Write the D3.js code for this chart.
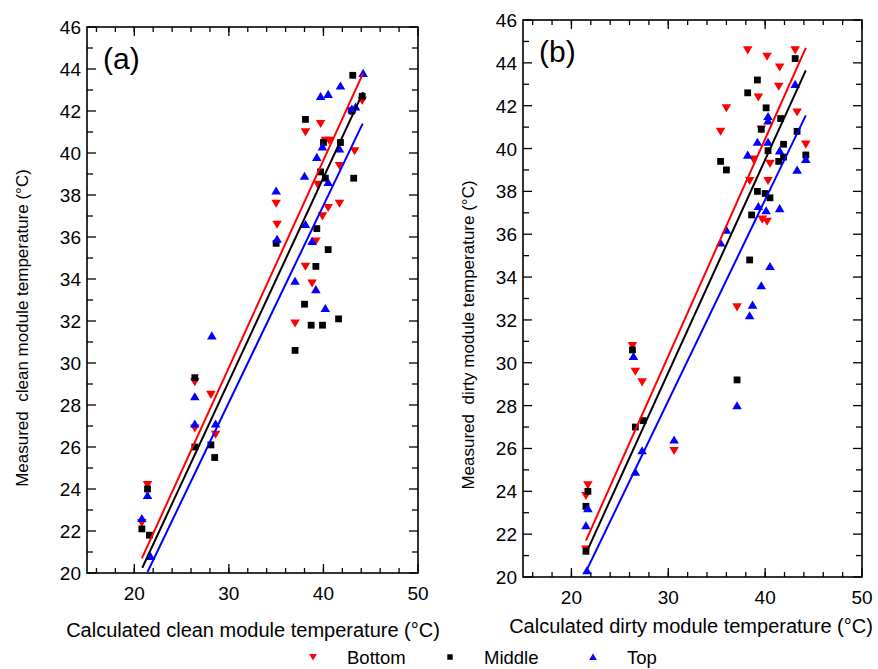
<!DOCTYPE html>
<html>
<head>
<meta charset="utf-8">
<script src="https://cdn.jsdelivr.net/npm/d3@7"></script>
<style>
  body { margin: 0; background: #fff; }
  svg { font-family: Arial, "Liberation Sans", sans-serif; }
</style>
</head>
<body>
<svg id="chart" width="878" height="669"></svg>
<script>
// series names and colours
const seriesNames = ['Bottom', 'Middle', 'Top']
const seriesColors = ['#ff0000', '#000000', '#0000ff']

// (a) clean module: [calculated, measured]
const cleanBottom = [[21.4,24.2],[20.8,22.4],[26.4,29.1],[26.4,26.9],[28.1,28.5],[28.6,26.6],[35.0,37.6],[35.1,36.6],[37.0,31.9],[38.1,41.0],[38.1,34.6],[38.8,33.8],[39.2,35.8],[39.4,38.5],[39.7,41.4],[39.9,37.0],[40.2,40.6],[40.5,37.4],[40.6,40.6],[41.7,37.6],[41.7,39.4],[42.9,42.0],[43.3,40.1],[44.1,42.5]]
const cleanMiddle = [[20.8,22.1],[21.6,21.8],[21.4,24.0],[26.4,29.3],[26.4,26.0],[28.1,26.1],[28.5,25.5],[35.0,35.7],[37.0,30.6],[38.0,32.8],[38.1,41.6],[38.7,31.8],[39.2,34.6],[39.3,36.4],[39.7,39.1],[39.9,31.8],[40.0,40.5],[40.2,38.8],[40.5,35.4],[41.6,32.1],[41.8,40.5],[43.0,42.0],[43.1,43.7],[43.2,38.8],[44.1,42.7]]
const cleanTop = [[20.8,22.6],[21.4,23.7],[21.7,20.8],[26.4,28.4],[26.4,27.1],[28.2,31.3],[28.6,27.1],[35.0,38.2],[35.1,35.9],[37.0,33.9],[38.0,38.9],[38.1,36.6],[38.8,35.8],[39.2,33.5],[39.3,39.8],[39.7,42.7],[39.9,40.3],[40.2,32.6],[40.5,38.6],[40.5,42.8],[41.7,40.2],[41.8,43.2],[43.0,42.1],[43.4,42.2],[44.2,43.8]]

// (b) dirty module
const dirtyBottom = [[21.5,21.3],[21.5,23.8],[21.7,24.3],[26.3,30.8],[26.6,29.6],[27.3,29.1],[30.6,25.9],[35.4,40.8],[36.0,41.9],[37.1,32.6],[38.2,44.6],[38.4,38.5],[38.8,39.5],[39.3,42.4],[39.6,40.9],[39.7,36.7],[40.2,44.3],[40.2,36.6],[40.3,38.5],[40.5,39.3],[41.4,42.9],[41.5,43.8],[43.1,44.6],[43.3,41.7],[44.2,40.2]]
const dirtyMiddle = [[21.5,21.2],[21.5,23.3],[21.7,24.0],[26.3,30.6],[26.6,27.0],[27.4,27.3],[35.4,39.4],[36.0,39.0],[37.1,29.2],[38.2,42.6],[38.4,34.8],[38.6,36.9],[39.2,43.2],[39.2,38.0],[39.6,40.9],[40.0,37.9],[40.1,41.9],[40.3,39.9],[40.5,37.7],[41.4,39.4],[41.6,41.4],[41.9,39.6],[41.9,40.2],[43.1,44.2],[43.3,40.8],[44.2,39.7]]
const dirtyTop = [[21.5,22.4],[21.6,20.3],[21.7,23.2],[26.4,30.3],[26.6,24.9],[27.3,25.9],[30.6,26.4],[35.4,35.6],[36.0,36.2],[37.1,28.0],[38.2,39.7],[38.4,32.2],[38.7,32.7],[39.2,40.3],[39.3,37.3],[39.6,33.6],[40.1,37.1],[40.3,41.5],[40.3,41.3],[40.3,40.3],[40.5,34.5],[41.5,39.9],[41.5,37.2],[43.1,43.0],[43.3,39.0],[44.2,39.5]]

// linear fit segments [x1, y1, x2, y2] per series
const cleanFits = [[20.8,20.7,44.2,43.8],[20.85,20.25,44.2,42.9],[21.4,20.05,44.15,41.4]]
const dirtyFits = [[21.5,21.7,44.2,44.7],[21.6,21.2,44.2,43.65],[21.5,20.25,44.2,41.55]]

// axes
const xDomain = [15, 50]
const yDomain = [20, 46]
const xTickLabels = [20, 30, 40, 50]
const yTickLabels = [20, 22, 24, 26, 28, 30, 32, 34, 36, 38, 40, 42, 44, 46]

const svg = d3.select('#chart')

// marker paths centred at 0,0
function marker(i) {
  if (i === 0) return 'M-4.8,-3.7L4.8,-3.7L0,4.4Z'
  if (i === 1) return 'M-3.4,-3.4H3.4V3.4H-3.4Z'
  return 'M-4.8,3.7L4.8,3.7L0,-4.4Z'
}

function drawPanel(p) {
  const x = d3.scaleLinear().domain(xDomain).range([p.x0, p.x1])
  const y = d3.scaleLinear().domain(yDomain).range([p.y1, p.y0])
  const g = svg.append('g')

  // ticks on all four sides, pointing inward
  const xMinor = d3.range(16, 50, 2)
  const yMinor = d3.range(21, 46, 2)
  xMinor.forEach(v => {
    g.append('line').attr('x1', x(v)).attr('x2', x(v)).attr('y1', p.y1).attr('y2', p.y1 - 5)
    g.append('line').attr('x1', x(v)).attr('x2', x(v)).attr('y1', p.y0).attr('y2', p.y0 + 5)
  })
  xTickLabels.forEach(v => {
    g.append('line').attr('x1', x(v)).attr('x2', x(v)).attr('y1', p.y1).attr('y2', p.y1 - 9)
    g.append('line').attr('x1', x(v)).attr('x2', x(v)).attr('y1', p.y0).attr('y2', p.y0 + 9)
    g.append('text').attr('x', x(v)).attr('y', p.y1 + 27)
      .attr('text-anchor', 'middle').attr('font-size', 19).text(v)
  })
  yMinor.forEach(v => {
    g.append('line').attr('x1', p.x0).attr('x2', p.x0 + 6).attr('y1', y(v)).attr('y2', y(v))
    g.append('line').attr('x1', p.x1).attr('x2', p.x1 - 6).attr('y1', y(v)).attr('y2', y(v))
  })
  yTickLabels.forEach(v => {
    g.append('line').attr('x1', p.x0).attr('x2', p.x0 + 9).attr('y1', y(v)).attr('y2', y(v))
    g.append('line').attr('x1', p.x1).attr('x2', p.x1 - 9).attr('y1', y(v)).attr('y2', y(v))
    g.append('text').attr('x', p.x0 - 6).attr('y', y(v) + 7)
      .attr('text-anchor', 'end').attr('font-size', 19).text(v)
  })
  g.selectAll('line').attr('stroke', '#000').attr('stroke-width', 1.3)

  g.append('rect').attr('x', p.x0).attr('y', p.y0)
    .attr('width', p.x1 - p.x0).attr('height', p.y1 - p.y0)
    .attr('fill', 'none').attr('stroke', '#000').attr('stroke-width', 1.6)

  // points
  p.series.forEach((pts, i) => {
    g.selectAll(null).data(pts).enter().append('path')
      .attr('d', marker(i))
      .attr('transform', d => `translate(${x(d[0])},${y(d[1])})`)
      .attr('fill', seriesColors[i])
  })

  // fit lines
  p.fits.forEach((f, i) => {
    g.append('line')
      .attr('x1', x(f[0])).attr('y1', y(f[1]))
      .attr('x2', x(f[2])).attr('y2', y(f[3]))
      .attr('stroke', seriesColors[i]).attr('stroke-width', 2)
  })

  g.append('text').attr('x', p.x0 + 16).attr('y', p.y0 + 42)
    .attr('font-size', 30).text(p.label)

  g.append('text').attr('x', p.xtx).attr('y', p.xty)
    .attr('text-anchor', 'middle').attr('font-size', 20).text(p.xTitle)

  g.append('text')
    .attr('transform', `translate(${p.ytx},${p.yty}) rotate(-90)`)
    .attr('text-anchor', 'middle').attr('font-size', 17)
    .style('white-space', 'pre').text(p.yTitle)
}

drawPanel({
  x0: 87, x1: 418, y0: 27, y1: 573,
  series: [cleanBottom, cleanMiddle, cleanTop], fits: cleanFits, label: '(a)',
  xTitle: 'Calculated clean module temperature (°C)', xtx: 253, xty: 637,
  yTitle: 'Measured  clean module temperature (°C)', ytx: 28, yty: 328
})
drawPanel({
  x0: 523, x1: 862, y0: 20, y1: 577,
  series: [dirtyBottom, dirtyMiddle, dirtyTop], fits: dirtyFits, label: '(b)',
  xTitle: 'Calculated dirty module temperature (°C)', xtx: 691, xty: 633,
  yTitle: 'Measured  dirty module temperature (°C)', ytx: 474, yty: 335
})

// legend
const legendX = [313, 450, 593]
const legend = svg.append('g')
seriesNames.forEach((name, i) => {
  legend.append('path').attr('d', marker(i))
    .attr('transform', `translate(${legendX[i]},657) scale(0.8)`)
    .attr('fill', seriesColors[i])
  legend.append('text').attr('x', legendX[i] + 34).attr('y', 664)
    .attr('font-size', 18.5).text(name)
})
</script>
</body>
</html>
